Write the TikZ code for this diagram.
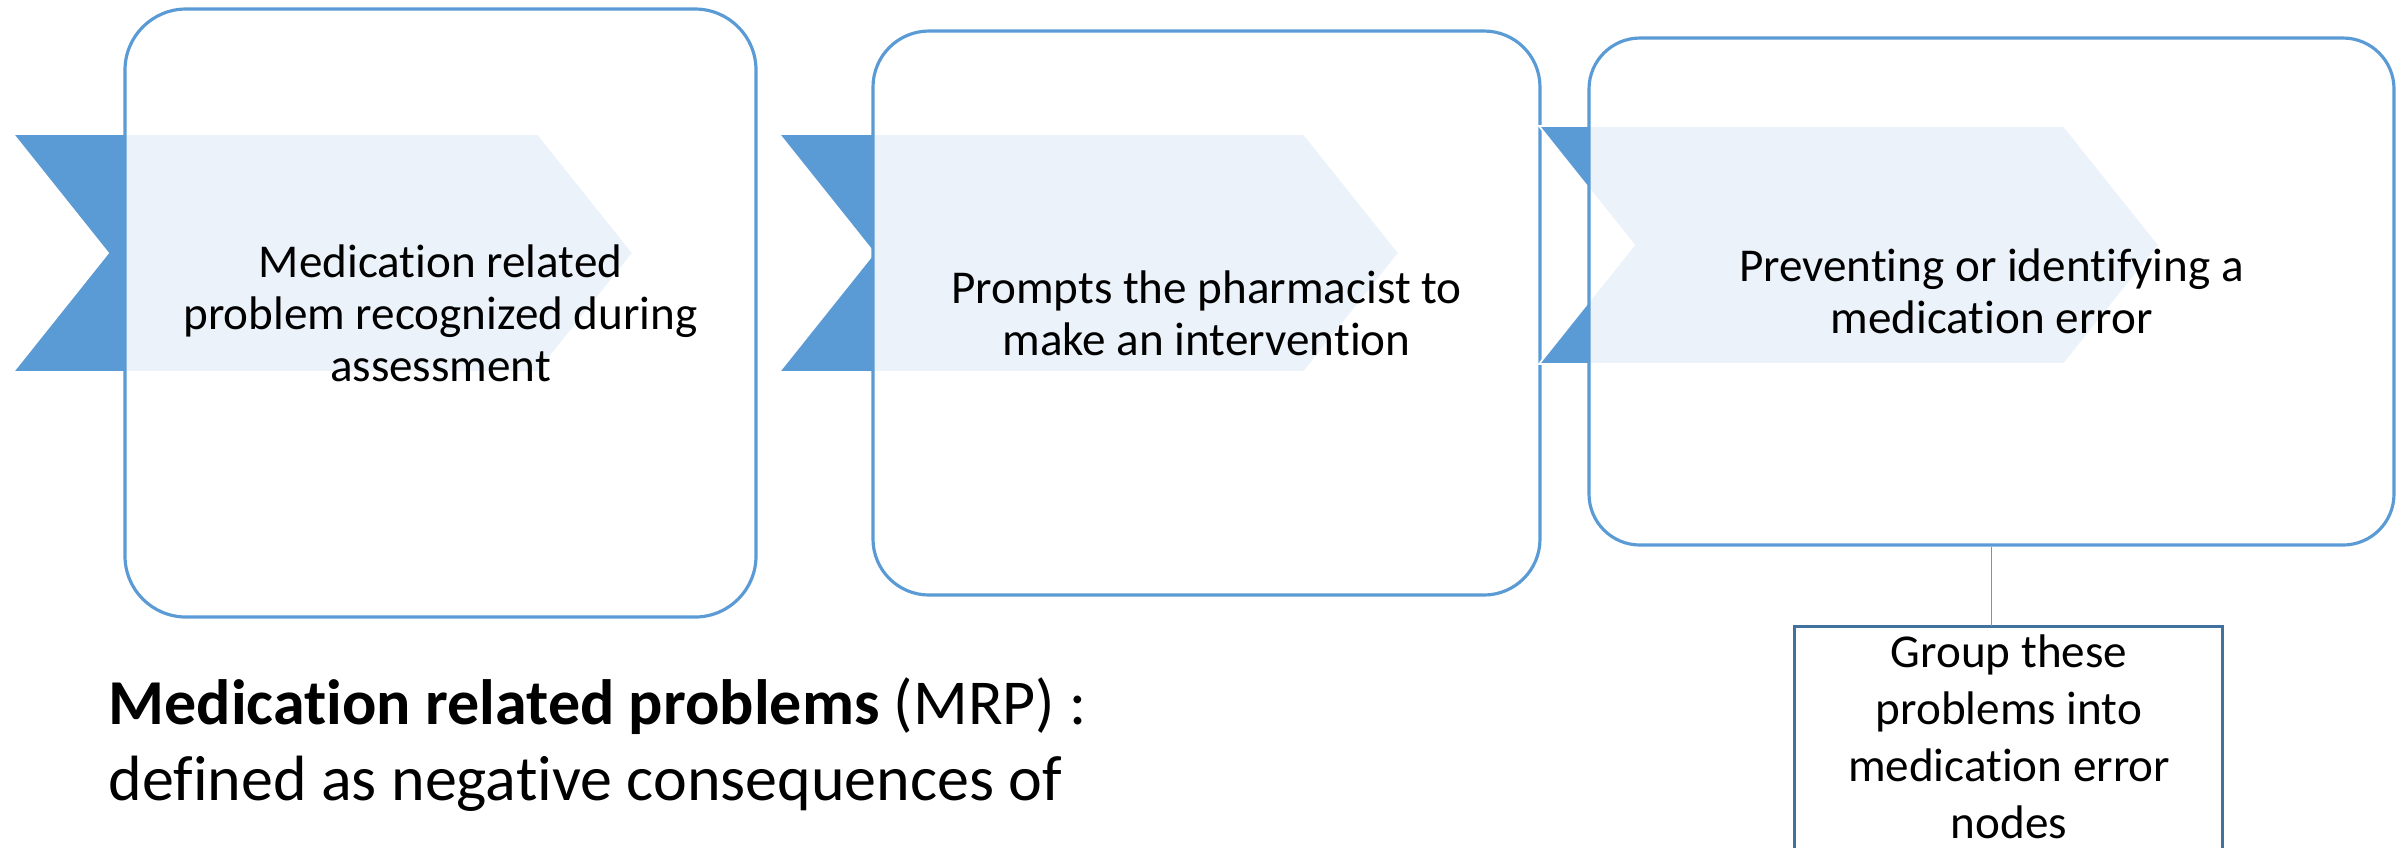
\documentclass[tikz,border=0pt]{standalone}
\usepackage{fontspec}
\setmainfont{Carlito}[Ligatures=NoCommon]
\newlength{\du}
\setlength{\du}{0.01cm}
\newcommand{\stagefont}{\fontsize{13.4pt}{14.8pt}\selectfont}
\newcommand{\groupfont}{\fontsize{13.4pt}{16.2pt}\selectfont}
\newcommand{\mrpfont}{\fontsize{18.2pt}{21.6pt}\selectfont}
% chevron band behind a stage, from its top left corner
\newcommand{\stageband}[2]{%
  \filldraw[band] (#1\du,#2\du)--++(525\du,0\du)--++(95\du,119\du)--++(-95\du,119\du)--++(-525\du,0\du)--++(95\du,-119\du)--cycle;}

\begin{document}
\begin{tikzpicture}[
  stagebox/.style={draw=bandcolor, line width=0.9pt, fill=white, fill opacity=0.88, text opacity=1,
    align=center, font=\stagefont, inner sep=0pt},
  band/.style={fill=bandcolor, draw=white, line width=0.5pt, line join=miter},
  groupbox/.style={align=center, font=\groupfont, inner xsep=0pt, inner ysep=8\du, minimum width=428\du},
  groupedge/.style={draw=groupcolor, line width=0.85pt},
  link/.style={draw=bandcolor, line width=0.5pt}]
\pgftransformyscale{-1.000000}
\definecolor{bandcolor}{rgb}{0.357, 0.608, 0.835}
\definecolor{groupcolor}{rgb}{0.255, 0.443, 0.612}
\useasboundingbox (0\du,0\du) rectangle (2396\du,847\du);
\clip (0\du,0\du) rectangle (2396\du,847\du);
% stage 1
\stageband{13}{134}
\node[stagebox, minimum width=631\du, minimum height=608\du, rounded corners=61\du] (stage1) at (440.5\du,313\du)
  {Medication related\\problem recognized during\\assessment};
% stage 2
\stageband{779}{134}
\node[stagebox, minimum width=667\du, minimum height=564\du, rounded corners=56\du] (stage2) at (1206.5\du,313\du)
  {Prompts the pharmacist to\\make an intervention};
% stage 3
\stageband{1539}{126}
\node[stagebox, minimum width=805\du, minimum height=507\du, rounded corners=51\du] (stage3) at (1991.5\du,291.5\du)
  {Preventing or identifying a\\medication error};
% grouping box, runs off the bottom
\node[groupbox, anchor=north] (group) at (2009\du,626\du)
  {Group these\\problems into\\medication error\\nodes};
\draw[groupedge] (group.north west) rectangle ++(428\du,300\du);
\draw[link] (stage3.south) -- (stage3.south |- group.north);
% definition text (base = last line)
\node[anchor=base west, align=left, font=\mrpfont, inner sep=0pt] (mrp) at (108\du,800\du)
  {\textbf{Medication related problems} (MRP) :\\defined as negative consequences of};
\end{tikzpicture}
\end{document}
